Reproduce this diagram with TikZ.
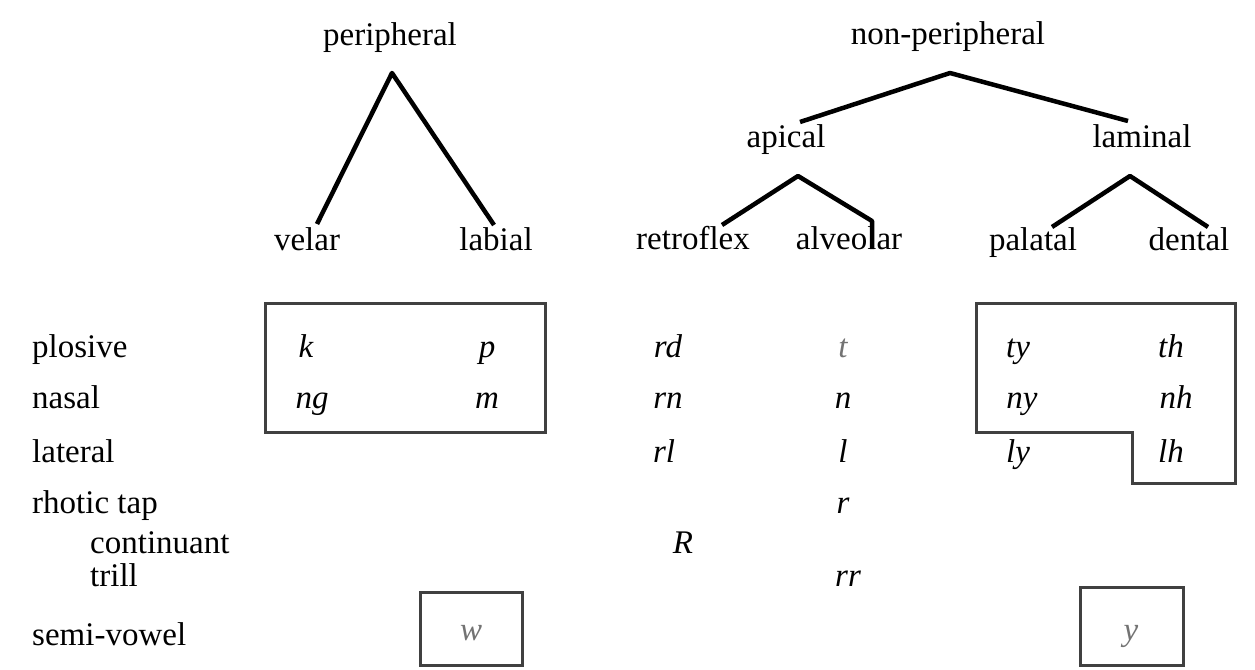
\documentclass[tikz,border=0pt]{standalone}
\usepackage{fontspec}
\setmainfont{Liberation Serif}
\begin{document}
\begin{tikzpicture}[x=1pt,y=-1pt,
  lbl/.style={inner sep=0pt,anchor=base,font=\fontsize{33}{38}\selectfont},
  rowlbl/.style={inner sep=0pt,anchor=base west,font=\fontsize{33}{38}\selectfont},
  seg/.style={inner sep=0pt,anchor=base,font=\fontsize{33}{38}\selectfont\itshape},
  faint/.style={text=black!55},
  branch/.style={line width=4.5pt,line join=round,line cap=butt},
  frame/.style={line width=3pt,draw=black!75}]
\useasboundingbox (0,0) rectangle (1255,669);
\fill[white] (0,0) rectangle (1255,669);
% tree labels
\node[lbl] (per) at (390,46) {peripheral};
\node[lbl] (nonper) at (948,45) {non-peripheral};
\node[lbl] (apical) at (786,147) {apical};
\node[lbl] (laminal) at (1142,147) {laminal};
\node[lbl] (velar) at (307,250) {velar};
\node[lbl] (labial) at (496,250) {labial};
\node[lbl] (retro) at (693,249) {retroflex};
\node[lbl] (alv) at (849,249) {alveolar};
\node[lbl] (pal) at (1033,250) {palatal};
\node[lbl] (dent) at (1189,250) {dental};
% branch points
\coordinate (perTop) at (392,73);
\coordinate (perL) at (317,224);
\coordinate (perR) at (494,225);
\coordinate (npTop) at (950,73);
\coordinate (npL) at (800,122);
\coordinate (npR) at (1128,121);
\coordinate (apTop) at (798,176);
\coordinate (apL) at (722,225);
\coordinate (apR) at (872,221);
\coordinate (apRb) at (872,249);
\coordinate (lmTop) at (1130,176);
\coordinate (lmL) at (1052,227);
\coordinate (lmR) at (1208,227);
\draw[branch] (perL) -- (perTop) -- (perR);
\draw[branch] (npL) -- (npTop) -- (npR);
\draw[branch] (apL) -- (apTop) -- (apR) -- (apRb);
\draw[branch] (lmL) -- (lmTop) -- (lmR);
% row labels
\node[rowlbl] (plos) at (32,357) {plosive};
\node[rowlbl] (nas) at (32,408) {nasal};
\node[rowlbl] (lat) at (32,462) {lateral};
\node[rowlbl] (rho) at (32,513) {rhotic tap};
\node[rowlbl] (cont) at (90,553) {continuant};
\node[rowlbl] (trill) at (90,586) {trill};
\node[rowlbl] (semi) at (32,645) {semi-vowel};
% segments
\node[seg] (k) at (306,357) {k};
\node[seg] (p) at (487,357) {p};
\node[seg] (ng) at (312,408) {ng};
\node[seg] (m) at (487,408) {m};
\node[seg] (rd) at (668,357) {rd};
\node[seg,faint] (t) at (843,357) {t};
\node[seg] (rn) at (668,408) {rn};
\node[seg] (n) at (843,408) {n};
\node[seg] (rl) at (664,462) {rl};
\node[seg] (l) at (843,462) {l};
\node[seg] (r) at (843,513) {r};
\node[seg] (R) at (683,553) {R};
\node[seg] (rr) at (848,586) {rr};
\node[seg] (ty) at (1018,357) {ty};
\node[seg] (th) at (1171,357) {th};
\node[seg] (ny) at (1022,408) {ny};
\node[seg] (nh) at (1176,408) {nh};
\node[seg] (ly) at (1018,462) {ly};
\node[seg] (lh) at (1171,462) {lh};
\node[seg,faint] (w) at (471,640) {w};
\node[seg,faint] (y) at (1131,640) {y};
% frames
\draw[frame] (265,303) rectangle (545,432);
\draw[frame] (976,303) -- (1235,303) -- (1235,483) -- (1132,483) -- (1132,432) -- (976,432) -- cycle;
\draw[frame] (420,592) rectangle (522,665);
\draw[frame] (1080,587) rectangle (1183,665);
\end{tikzpicture}
\end{document}
